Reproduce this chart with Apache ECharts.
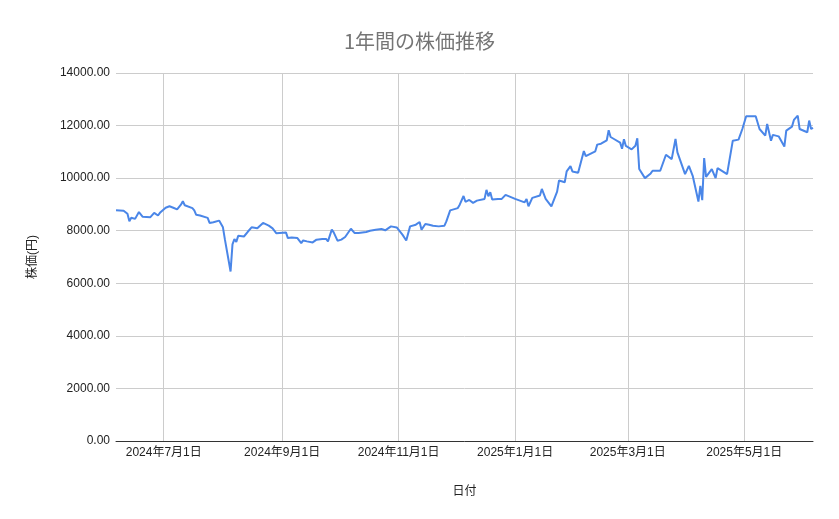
<!DOCTYPE html>
<html>
<head>
<meta charset="utf-8">
<title>1年間の株価推移</title>
<script src="https://cdn.jsdelivr.net/npm/echarts@6/dist/echarts.min.js"></script>
<style>
  html, body { margin: 0; padding: 0; background: #fff; }
  #chart { width: 839px; height: 519px; }
</style>
</head>
<body>
<div id="chart"></div>
<script>
// 日付と終値
var dates = [
  '2024-06-06','2024-06-10','2024-06-12','2024-06-13','2024-06-14','2024-06-16','2024-06-17','2024-06-18',
  '2024-06-20','2024-06-21','2024-06-24','2024-06-26','2024-06-28','2024-06-29','2024-07-02','2024-07-03',
  '2024-07-04','2024-07-06','2024-07-08','2024-07-10','2024-07-11','2024-07-12','2024-07-16','2024-07-17',
  '2024-07-18','2024-07-20','2024-07-24','2024-07-25','2024-07-27','2024-07-30','2024-07-31','2024-08-01',
  '2024-08-02','2024-08-05','2024-08-06','2024-08-07','2024-08-08','2024-08-09','2024-08-12','2024-08-13',
  '2024-08-14','2024-08-15','2024-08-16','2024-08-19','2024-08-22','2024-08-25','2024-08-27','2024-08-29',
  '2024-09-03','2024-09-04','2024-09-06','2024-09-09','2024-09-10','2024-09-11','2024-09-12','2024-09-14',
  '2024-09-17','2024-09-19','2024-09-22','2024-09-24','2024-09-25','2024-09-27','2024-09-28','2024-09-30',
  '2024-10-01','2024-10-02','2024-10-04','2024-10-07','2024-10-09','2024-10-11','2024-10-15','2024-10-17',
  '2024-10-20','2024-10-21','2024-10-23','2024-10-25','2024-10-28','2024-10-29','2024-10-31','2024-11-01',
  '2024-11-03','2024-11-05','2024-11-07','2024-11-08','2024-11-10','2024-11-12','2024-11-13','2024-11-15',
  '2024-11-17','2024-11-19','2024-11-20','2024-11-22','2024-11-25','2024-11-26','2024-11-28','2024-11-29',
  '2024-12-02','2024-12-03','2024-12-05','2024-12-06','2024-12-08','2024-12-09','2024-12-10','2024-12-12',
  '2024-12-16','2024-12-17','2024-12-18','2024-12-19','2024-12-20','2024-12-23','2024-12-24','2024-12-25',
  '2024-12-27','2025-01-01','2025-01-06','2025-01-07','2025-01-08','2025-01-10','2025-01-14','2025-01-15',
  '2025-01-16','2025-01-17','2025-01-20','2025-01-23','2025-01-24','2025-01-27','2025-01-28','2025-01-29',
  '2025-01-30','2025-01-31','2025-02-03','2025-02-06','2025-02-07','2025-02-08','2025-02-12','2025-02-13',
  '2025-02-15','2025-02-18','2025-02-19','2025-02-20','2025-02-22','2025-02-25','2025-02-26','2025-02-27',
  '2025-02-28','2025-03-03','2025-03-05','2025-03-06','2025-03-07','2025-03-10','2025-03-13','2025-03-14',
  '2025-03-18','2025-03-21','2025-03-24','2025-03-26','2025-03-27','2025-03-31','2025-04-02','2025-04-04',
  '2025-04-07','2025-04-08','2025-04-09','2025-04-10','2025-04-11','2025-04-14','2025-04-16','2025-04-17',
  '2025-04-22','2025-04-25','2025-04-28','2025-04-30','2025-05-02','2025-05-07','2025-05-09','2025-05-12',
  '2025-05-13','2025-05-15','2025-05-16','2025-05-19','2025-05-22','2025-05-23','2025-05-26','2025-05-27',
  '2025-05-28','2025-05-29','2025-05-30','2025-06-03','2025-06-04','2025-06-05','2025-06-06'
];
var prices = [
  8780, 8760, 8645, 8360, 8490, 8450, 8425, 8710,
  8530, 8500, 8515, 8680, 8580, 8680, 8875, 8840,
  8930, 8875, 8810, 8990, 9120, 8970, 8860, 8775,
  8605, 8580, 8490, 8295, 8320, 8385, 8410, 8130,
  7680, 6450, 7480, 7680, 7575, 7805, 7780, 7770,
  7960, 7910, 8130, 8090, 8295, 8195, 8090, 7900,
  7935, 7720, 7745, 7720, 7660, 7530, 7630, 7595,
  7555, 7660, 7685, 7685, 7595, 8040, 7935, 7620,
  7685, 7660, 7760, 8075, 7910, 7910, 7950, 8000,
  8040, 8000, 8065, 8015, 8165, 8100, 8125, 8065,
  7850, 7630, 8165, 8200, 8230, 8330, 8040, 8255,
  8230, 8190, 8230, 8165, 8190, 8355, 8775, 8825,
  8860, 8990, 9320, 9100, 9170, 9235, 9060, 9145,
  9210, 9555, 9310, 9465, 9185, 9210, 9235, 9210,
  9365, 9210, 9080, 9210, 8930, 9250, 9340, 9590,
  9565, 9210, 8930, 9490, 9910, 9845, 10255, 10190,
  10460, 10255, 10205, 11030, 10840, 10905, 11020, 11275,
  11310, 11440, 11820, 11565, 11480, 11350, 11120, 11480,
  11225, 11095, 11235, 11515, 10345, 10000, 10180, 10280,
  10280, 10890, 10725, 11490, 10980, 10150, 10470, 10090,
  9110, 9705, 9160, 10765, 10050, 10345, 10000, 10380,
  10150, 11425, 11465, 11870, 12355, 12355, 11870, 11620,
  12065, 11425, 11645, 11590, 11200, 11810, 11960, 12215,
  12190, 12380, 11870, 11745, 12190, 11870, 11910
];
// 目盛り（2か月ごと）
var xTicks = ['2024-07-01', '2024-09-01', '2024-11-01', '2025-01-01', '2025-03-01', '2025-05-01'];

var FONT = '"Liberation Sans", Arial, "Noto Sans CJK JP", sans-serif';

function toTime(s) {
  var p = s.split('-');
  return new Date(+p[0], +p[1] - 1, +p[2]).getTime();
}

var seriesData = dates.map(function (d, i) { return [toTime(d), prices[i]]; });
var tickValues = xTicks.map(toTime);

var myChart = echarts.init(document.getElementById('chart'));
myChart.setOption({
  animation: false,
  title: {
    text: '1年間の株価推移',
    left: 'center',
    top: 26,
    textStyle: { fontFamily: '"Noto Sans CJK JP", sans-serif', fontSize: 20, fontWeight: 'normal', color: '#757575' }
  },
  grid: { left: 116, right: 26, top: 73, bottom: 78 },
  xAxis: {
    type: 'value',
    min: 'dataMin',
    max: 'dataMax',
    name: '日付',
    nameLocation: 'middle',
    nameGap: 45,
    nameTextStyle: { fontFamily: FONT, fontSize: 12, color: '#222' },
    axisLine: { show: true, onZero: false, lineStyle: { color: '#333', width: 1 } },
    axisTick: { show: false, customValues: tickValues },
    axisLabel: {
      customValues: tickValues,
      fontFamily: FONT, fontSize: 12, color: '#222', margin: 6,
      formatter: function (v) {
        var d = new Date(v);
        return d.getFullYear() + '年' + (d.getMonth() + 1) + '月' + d.getDate() + '日';
      }
    },
    splitLine: { show: true, lineStyle: { color: '#cccccc', width: 1 } }
  },
  yAxis: {
    type: 'value',
    min: 0,
    max: 14000,
    interval: 2000,
    name: '株価(円)',
    nameLocation: 'middle',
    nameGap: 77,
    nameTextStyle: { fontFamily: FONT, fontSize: 12, color: '#222' },
    axisLine: { show: false },
    axisTick: { show: false },
    axisLabel: {
      fontFamily: FONT, fontSize: 12, color: '#222', margin: 6,
      formatter: function (v) { return v.toFixed(2); }
    },
    splitLine: { lineStyle: { color: '#cccccc', width: 1 } }
  },
  series: [{
    type: 'line',
    data: seriesData,
    showSymbol: false,
    lineStyle: { color: '#4a86e8', width: 2 },
    itemStyle: { color: '#4a86e8' }
  }]
});

window.onresize = function () {
  myChart.resize();
};
</script>
</body>
</html>
